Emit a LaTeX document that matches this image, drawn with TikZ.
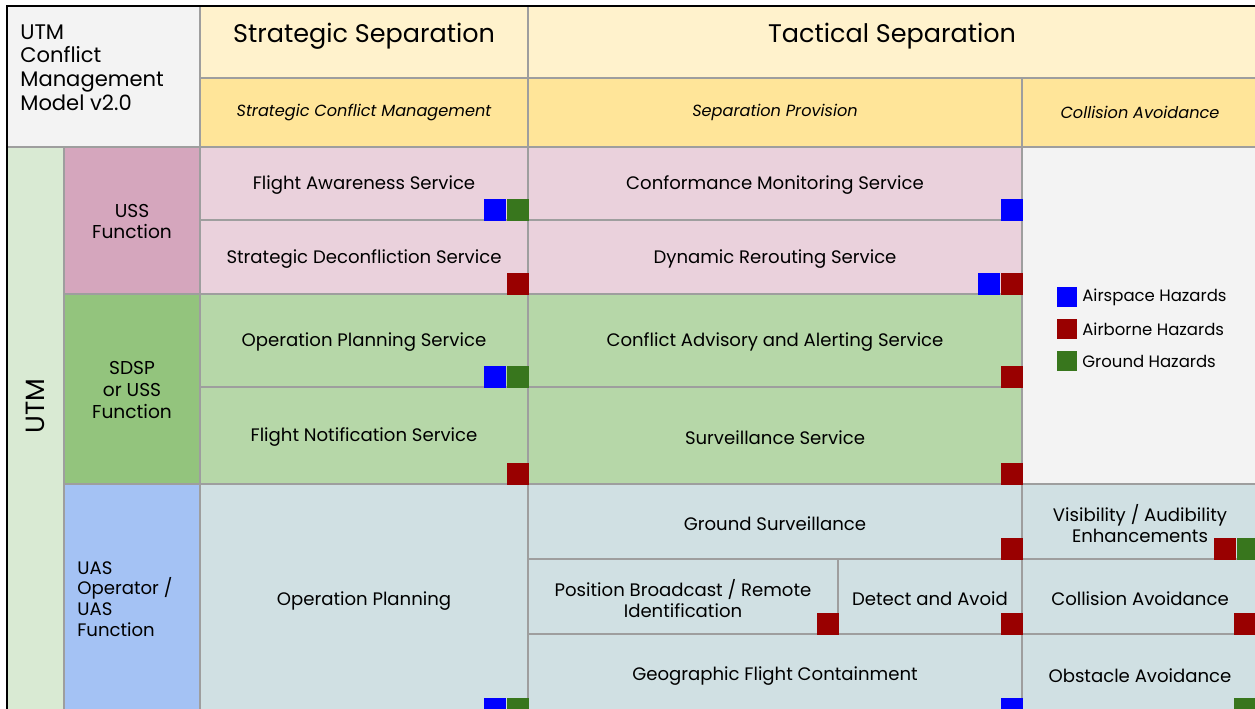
\documentclass[tikz,border=0pt]{standalone}
\usepackage{fontspec}
\setmainfont{Poppins}
\usetikzlibrary{fit}

\definecolor{gridgray}{HTML}{9E9E9E}
\definecolor{titlebg}{HTML}{F3F3F3}
\definecolor{headA}{HTML}{FFF2CC}
\definecolor{headB}{HTML}{FFE599}
\definecolor{utmbg}{HTML}{D9EAD3}
\definecolor{ussfn}{HTML}{D5A6BD}
\definecolor{usscell}{HTML}{EAD1DC}
\definecolor{sdspfn}{HTML}{93C47D}
\definecolor{sdspcell}{HTML}{B6D7A8}
\definecolor{uasfn}{HTML}{A4C2F4}
\definecolor{uascell}{HTML}{D0E0E3}
\definecolor{hzblue}{HTML}{0000FF}
\definecolor{hzred}{HTML}{990000}
\definecolor{hzgreen}{HTML}{38761D}

\begin{document}
\begin{tikzpicture}[x=0.02cm, y=-0.02cm,
	cell/.style = {draw=gridgray, line width=1.1pt, inner sep=0pt},
	lab/.style = {align=center, inner sep=0pt, yshift=-0.04cm,
	              font=\fontsize{10.3}{12}\selectfont},
	fnlab/.style = {align=center, inner sep=0pt, yshift=-0.02cm,
	                font=\fontsize{10.6}{12.5}\selectfont},
	headtext/.style = {font=\fontsize{14.5}{17}\selectfont},
	sublab/.style = {inner sep=0pt, font=\fontsize{9.2}{11}\selectfont\itshape},
	hz/.style = {minimum size=0.44cm, inner sep=0pt},
	legbox/.style = {minimum size=0.4cm, inner sep=0pt},
	legtext/.style = {anchor=west, inner sep=0pt, font=\fontsize{9.4}{11}\selectfont}]

	\useasboundingbox[fill=white] (0,0) rectangle (1255,709);

	% header
	\node [cell, fill=titlebg, fit={(7,6) (200,147)}] (title) {};
	\node [anchor=north west, align=left, inner sep=0pt,
	       font=\fontsize{12}{13.6}\selectfont] (titletext) at (20,24)
	       {UTM\\Conflict\\Management\\Model v2.0};
	\node [cell, fill=headA, fit={(200,6) (528,78)}] (strat) {};
	\node [headtext] (strattext) at (364,36) {Strategic Separation};
	\node [cell, fill=headA, fit={(528,6) (1258,78)}] (tact) {};
	\node [headtext] (tacttext) at (892,36) {Tactical Separation};
	\node [cell, fill=headB, fit={(200,78) (528,147)},
	       label={[sublab]center:Strategic Conflict Management}] (scm) {};
	\node [cell, fill=headB, fit={(528,78) (1022,147)},
	       label={[sublab]center:Separation Provision}] (sepprov) {};
	\node [cell, fill=headB, fit={(1022,78) (1258,147)},
	       label={[sublab]center:Collision Avoidance}] (colhead) {};

	% left columns
	\node [cell, fill=utmbg, fit={(7,147) (64,714)}] (utm) {};
	\node [rotate=90, font=\fontsize{15}{17}\selectfont] (utmtext) at (35,406) {UTM};
	\node [cell, fill=ussfn, fit={(64,147) (200,294)},
	       label={[fnlab]center:{USS\\Function}}] (ussfun) {};
	\node [cell, fill=sdspfn, fit={(64,294) (200,484)},
	       label={[fnlab]center:{SDSP\\or USS\\Function}}] (sdspfun) {};
	\node [cell, fill=uasfn, fit={(64,484) (200,714)}] (uasfun) {};
	\node [anchor=west, align=left, inner sep=0pt,
	       font=\fontsize{10.3}{11.8}\selectfont] (uastext) at (77,599)
	       {UAS\\Operator /\\UAS\\Function};

	% USS rows
	\node [cell, fill=usscell, fit={(200,147) (528,220)},
	       label={[lab]center:Flight Awareness Service}] (faware) {};
	\node [cell, fill=usscell, fit={(200,220) (528,294)},
	       label={[lab]center:Strategic Deconfliction Service}] (sdecon) {};
	\node [cell, fill=usscell, fit={(528,147) (1022,220)},
	       label={[lab]center:Conformance Monitoring Service}] (confmon) {};
	\node [cell, fill=usscell, fit={(528,220) (1022,294)},
	       label={[lab]center:Dynamic Rerouting Service}] (reroute) {};
	\node [cell, fill=titlebg, fit={(1022,147) (1258,484)}] (legend) {};

	% SDSP rows
	\node [cell, fill=sdspcell, fit={(200,294) (528,387)},
	       label={[lab]center:Operation Planning Service}] (opsvc) {};
	\node [cell, fill=sdspcell, fit={(200,387) (528,484)},
	       label={[lab]center:Flight Notification Service}] (fnotif) {};
	\node [cell, fill=sdspcell, fit={(528,294) (1022,387)},
	       label={[lab]center:Conflict Advisory and Alerting Service}] (advisory) {};
	\node [cell, fill=sdspcell, fit={(528,387) (1022,484)},
	       label={[lab]center:Surveillance Service}] (surv) {};

	% UAS rows
	\node [cell, fill=uascell, fit={(200,484) (528,714)},
	       label={[lab]center:Operation Planning}] (opplan) {};
	\node [cell, fill=uascell, fit={(528,484) (1022,559)},
	       label={[lab]center:Ground Surveillance}] (gsurv) {};
	\node [cell, fill=uascell, fit={(1022,484) (1258,559)},
	       label={[lab]center:{Visibility / Audibility\\Enhancements}}] (visib) {};
	\node [cell, fill=uascell, fit={(528,559) (838,634)},
	       label={[lab]center:{Position Broadcast / Remote\\Identification}}] (posbc) {};
	\node [cell, fill=uascell, fit={(838,559) (1022,634)},
	       label={[lab]center:Detect and Avoid}] (daa) {};
	\node [cell, fill=uascell, fit={(1022,559) (1258,634)},
	       label={[lab]center:Collision Avoidance}] (colav) {};
	\node [cell, fill=uascell, fit={(528,634) (1022,714)},
	       label={[lab]center:Geographic Flight Containment}] (geofc) {};
	\node [cell, fill=uascell, fit={(1022,634) (1258,714)},
	       label={[lab]center:Obstacle Avoidance}] (obstav) {};

	% hazard markers
	\node [hz, fill=hzgreen, anchor=south east] (fa2) at (faware.south east) {};
	\node [hz, fill=hzblue, anchor=south east] (fa1) at (fa2.south west) {};
	\node [hz, fill=hzred, anchor=south east] (sd1) at (sdecon.south east) {};
	\node [hz, fill=hzblue, anchor=south east] (cm1) at (confmon.south east) {};
	\node [hz, fill=hzred, anchor=south east] (dr2) at (reroute.south east) {};
	\node [hz, fill=hzblue, anchor=south east] (dr1) at (dr2.south west) {};
	\node [hz, fill=hzgreen, anchor=south east] (os2) at (opsvc.south east) {};
	\node [hz, fill=hzblue, anchor=south east] (os1) at (os2.south west) {};
	\node [hz, fill=hzred, anchor=south east] (fn1) at (fnotif.south east) {};
	\node [hz, fill=hzred, anchor=south east] (ca1) at (advisory.south east) {};
	\node [hz, fill=hzred, anchor=south east] (sv1) at (surv.south east) {};
	\node [hz, fill=hzgreen, anchor=south east] (op2) at ([yshift=-0.1cm]opplan.south east) {};
	\node [hz, fill=hzblue, anchor=south east] (op1) at (op2.south west) {};
	\node [hz, fill=hzred, anchor=south east] (gs1) at (gsurv.south east) {};
	\node [hz, fill=hzgreen, anchor=south east] (ve2) at (visib.south east) {};
	\node [hz, fill=hzred, anchor=south east] (ve1) at (ve2.south west) {};
	\node [hz, fill=hzred, anchor=south east] (pb1) at (posbc.south east) {};
	\node [hz, fill=hzred, anchor=south east] (da1) at (daa.south east) {};
	\node [hz, fill=hzred, anchor=south east] (cv1) at ([xshift=-0.06cm]colav.south east) {};
	\node [hz, fill=hzblue, anchor=south east] (gf1) at ([yshift=-0.1cm]geofc.south east) {};
	\node [hz, fill=hzgreen, anchor=south east] (oa1) at ([xshift=-0.06cm,yshift=-0.1cm]obstav.south east) {};

	% legend
	\node [legbox, fill=hzblue] (lgblue) at (1067,297) {};
	\node [legtext] (lgbluetext) at (1082,297) {Airspace Hazards};
	\node [legbox, fill=hzred] (lgred) at (1067,329) {};
	\node [legtext] (lgredtext) at (1082,329) {Airborne Hazards};
	\node [legbox, fill=hzgreen] (lggreen) at (1067,361) {};
	\node [legtext] (lggreentext) at (1082,361) {Ground Hazards};

	% outer frame
	\draw [black, line width=1.3pt] (7,714) -- (7,6) -- (1258,6);

\end{tikzpicture}
\end{document}
